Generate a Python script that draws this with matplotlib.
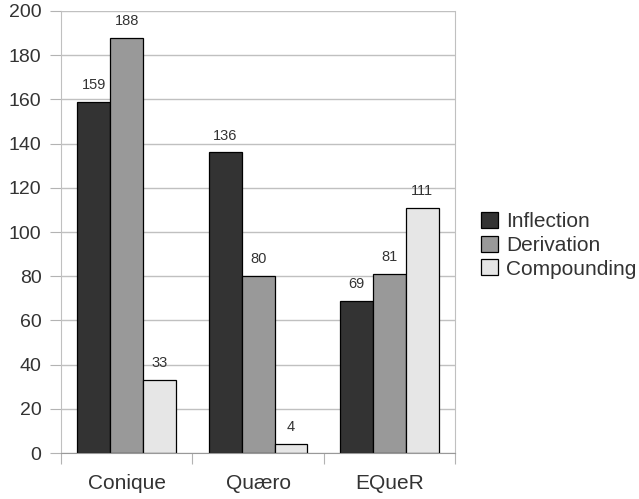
import matplotlib.pyplot as plt
import numpy as np

plt.rcParams['font.family'] = ['Liberation Sans', 'DejaVu Sans']

kategorie = ["Conique", "Quæro", "EQueR"]
serie = ["Inflection", "Derivation", "Compounding"]
inflection = [159, 136, 69]
derivation = [188, 80, 81]
compounding = [33, 4, 111]
kolory = ["#333333", "#999999", "#e6e6e6"]

fig = plt.figure(figsize=(6.39, 4.99), dpi=100)
ax = fig.add_axes([0.0955, 0.092, 0.617, 0.886])

x = np.arange(len(kategorie))
w = 0.25
for i, (vals, kol, nazwa) in enumerate(zip([inflection, derivation, compounding], kolory, serie)):
    pos = x + (i - 1) * w
    bars = ax.bar(pos, vals, w, color=kol, edgecolor="black", linewidth=0.9, label=nazwa, zorder=3)
    for b, v in zip(bars, vals):
        ax.text(b.get_x() + b.get_width() / 2, v + 4.5, str(v), ha="center", va="bottom",
                fontsize=10.5, color="#333333")

ax.set_xlim(-0.5, 2.5)
ax.set_ylim(0, 200)
ax.set_yticks(range(0, 201, 20))
ax.set_xticks([-0.5, 0.5, 1.5, 2.5], minor=False)
ax.set_xticklabels([])
ax.set_xticks(x, minor=True)
ax.set_xticklabels(kategorie, minor=True, fontsize=15, color="#333333")
ax.tick_params(axis="x", which="minor", length=0, pad=15)
ax.tick_params(axis="x", which="major", length=8, color="#b3b3b3")
ax.tick_params(axis="y", length=8, color="#b3b3b3", labelsize=14, labelcolor="#333333", pad=6)

ax.grid(True, axis="y", color="#c0c0c0", linewidth=1, zorder=0)
ax.spines["top"].set_visible(False)
for s in ["left", "right"]:
    ax.spines[s].set_color("#c0c0c0")
ax.spines["bottom"].set_color("#999999")
ax.spines["bottom"].set_zorder(4)

ax.legend(loc="center left", bbox_to_anchor=(1.066, 0.47), frameon=False, fontsize=15,
          handlelength=0.8, handleheight=0.8, handletextpad=0.4, labelspacing=0.22,
          labelcolor="#333333", borderaxespad=0, borderpad=0)

fig.savefig("out.png", dpi=100)
